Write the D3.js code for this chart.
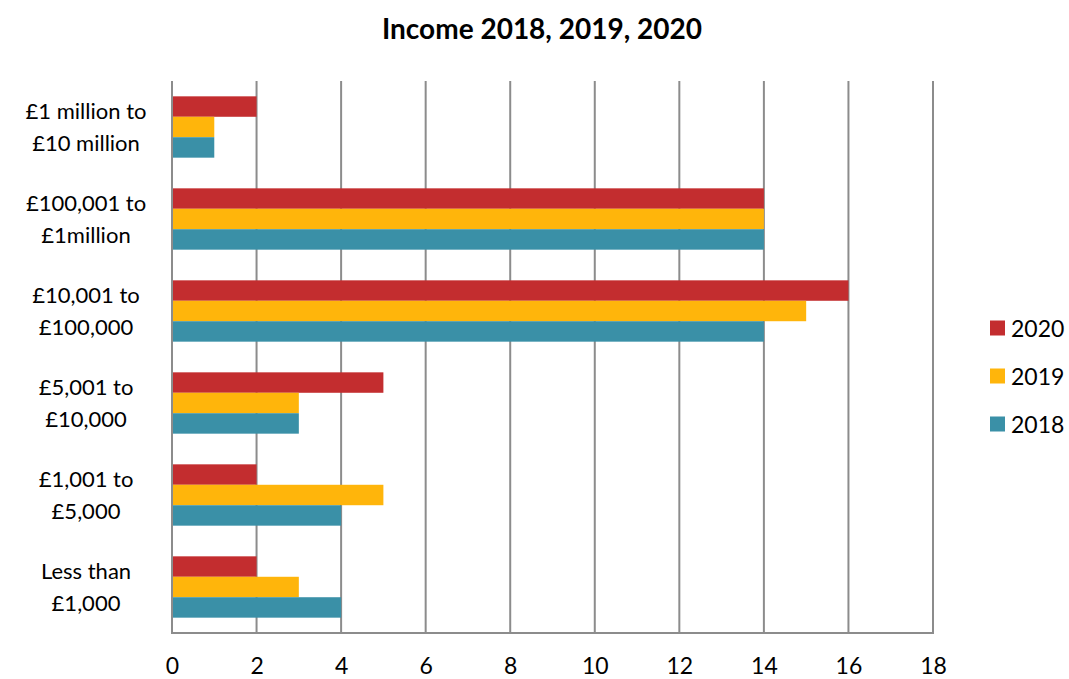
<!DOCTYPE html>
<html>
<head>
<meta charset="utf-8">
<script src="https://cdn.jsdelivr.net/npm/d3@7"></script>
<style>
  body { margin: 0; background: #fff; }
  text { font-family: Lato, "Open Sans", sans-serif; fill: #000; }
</style>
</head>
<body>
<svg id="chart" width="1069" height="679"></svg>
<script>
// Income bands, listed top to bottom
const categories = [
  ["£1 million to", "£10 million"],
  ["£100,001 to", "£1million"],
  ["£10,001 to", "£100,000"],
  ["£5,001 to", "£10,000"],
  ["£1,001 to", "£5,000"],
  ["Less than", "£1,000"]
];
const seriesNames = ["2020", "2019", "2018"];
const values2020 = [2, 14, 16, 5, 2, 2];
const values2019 = [1, 14, 15, 3, 5, 3];
const values2018 = [1, 14, 14, 3, 4, 4];
const xTicks = [0, 2, 4, 6, 8, 10, 12, 14, 16, 18];
const colors = ["#C32D2F", "#FFB50B", "#3A90A7"];

const seriesValues = [values2020, values2019, values2018];
const keys = categories.map((c, i) => i);

const svg = d3.select("#chart");
const plot = { left: 172, right: 933, top: 81, bottom: 633 };

const x = d3.scaleLinear().domain([0, 18]).range([plot.left, plot.right]);
const y = d3.scaleBand().domain(keys).range([plot.top, plot.bottom]).paddingInner(1/3).paddingOuter(1/6);
const ySub = d3.scaleBand().domain(seriesNames).range([0, y.bandwidth()]);

// Title
svg.append("text")
  .attr("x", 542).attr("y", 39)
  .attr("text-anchor", "middle")
  .attr("font-size", 28).attr("font-weight", "bold")
  .text("Income 2018, 2019, 2020");

// Vertical gridlines
svg.append("g").selectAll("line")
  .data(xTicks.slice(1))
  .join("line")
  .attr("x1", d => x(d)).attr("x2", d => x(d))
  .attr("y1", plot.top).attr("y2", plot.bottom)
  .attr("stroke", "#8c8c8c").attr("stroke-width", 2);

// Bars
const groups = svg.append("g").selectAll("g")
  .data(keys)
  .join("g")
  .attr("transform", i => `translate(0,${y(i)})`);

groups.selectAll("rect")
  .data(i => seriesNames.map((s, k) => ({ s, k, v: seriesValues[k][i] })))
  .join("rect")
  .attr("x", x(0))
  .attr("y", d => ySub(d.s))
  .attr("width", d => x(d.v) - x(0))
  .attr("height", ySub.bandwidth())
  .attr("fill", d => colors[d.k]);

// Axis lines
svg.append("line")
  .attr("x1", plot.left).attr("x2", plot.left)
  .attr("y1", plot.top).attr("y2", plot.bottom)
  .attr("stroke", "#8c8c8c").attr("stroke-width", 2);
svg.append("line")
  .attr("x1", plot.left - 1).attr("x2", plot.right + 1)
  .attr("y1", plot.bottom).attr("y2", plot.bottom)
  .attr("stroke", "#8c8c8c").attr("stroke-width", 2);

// X tick labels
const xAxis = d3.axisBottom(x).tickValues(xTicks).tickSize(0).tickPadding(0);
const gx = svg.append("g").attr("transform", `translate(0,${plot.bottom + 41})`).call(xAxis);
gx.select(".domain").remove();
gx.selectAll("text").attr("font-size", 23).attr("dy", 0).attr("font-family", "Lato, sans-serif").attr("fill", "#000");

// Category labels (two lines each)
const catLabels = svg.append("g").selectAll("text")
  .data(keys)
  .join("text")
  .attr("text-anchor", "middle")
  .attr("font-size", 22)
  .attr("transform", i => `translate(86,${y(i) + y.bandwidth() / 2})`);
catLabels.selectAll("tspan")
  .data(i => categories[i].map((t, j) => ({ t, j })))
  .join("tspan")
  .attr("x", 0)
  .attr("y", d => d.j === 0 ? -8 : 24)
  .text(d => d.t);

// Legend
const legend = svg.append("g").selectAll("g")
  .data(seriesNames)
  .join("g")
  .attr("transform", (d, k) => `translate(990,${328 + k * 48})`);
legend.append("rect")
  .attr("x", 0).attr("y", -7.5).attr("width", 15).attr("height", 15)
  .attr("fill", (d, k) => colors[k]);
legend.append("text")
  .attr("x", 21).attr("y", 8.5)
  .attr("font-size", 23)
  .text(d => d);
</script>
</body>
</html>
